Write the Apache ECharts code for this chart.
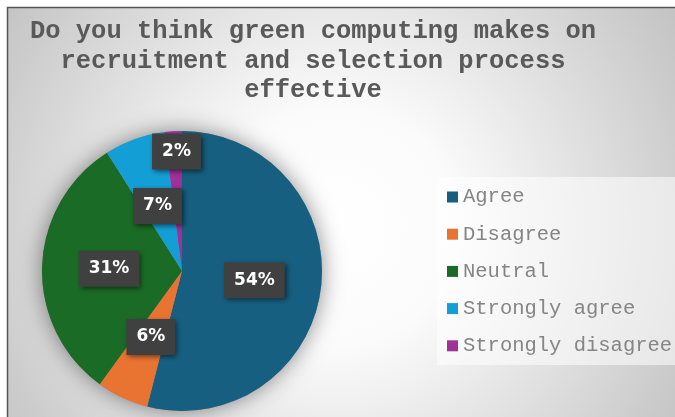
<!DOCTYPE html>
<html>
<head>
<meta charset="utf-8">
<script src="https://cdn.jsdelivr.net/npm/echarts@6/dist/echarts.min.js"></script>
<style>html,body{margin:0;padding:0;background:#fff;}#c{width:675px;height:417px;}</style>
</head>
<body>
<div id="c"></div>
<script>
const titleText = 'Do you think green computing makes on\nrecruitment and selection process\neffective';
const categories = ['Agree', 'Disagree', 'Neutral', 'Strongly agree', 'Strongly disagree'];
const values = [54, 6, 31, 7, 2];
const colors = ['#165F80', '#E97331', '#1A6B25', '#139FD6', '#A0309A'];
const labelPlace = { 3: [157.5, 206], 4: [176.5, 151.5] };

const chart = echarts.init(document.getElementById('c'), null, { renderer: 'canvas' });
const pieData = categories.map((name, i) => ({ name, value: values[i], itemStyle: { color: colors[i] } }));

chart.setOption({
  animation: false,
  backgroundColor: '#ffffff',
  graphic: [
    {
      type: 'rect', z: -10,
      shape: { x: 7.5, y: 7.5, width: 700, height: 440 },
      style: {
        fill: new echarts.graphic.RadialGradient(0.47, 0.5, 0.9, [
          { offset: 0, color: '#ffffff' },
          { offset: 0.3, color: '#fbfbfb' },
          { offset: 1, color: '#c4c4c4' }
        ]),
        stroke: '#555555', lineWidth: 1.5
      }
    },
    {
      type: 'rect', z: -9,
      shape: { x: 437, y: 177, width: 250, height: 188 },
      style: { fill: 'rgba(255,255,255,0.55)' }
    }
  ],
  title: {
    text: titleText,
    left: 313, top: 17, textAlign: 'center', padding: 0,
    textStyle: {
      fontFamily: 'Liberation Mono', fontWeight: 'bold', fontSize: 25.5,
      lineHeight: 29.5, color: '#595959'
    }
  },
  legend: {
    orient: 'vertical', left: 447, top: 186.5, padding: 0,
    data: categories,
    icon: 'rect', itemWidth: 11, itemHeight: 11, itemGap: 16.2,
    textStyle: { fontFamily: 'Liberation Mono', fontSize: 20.5, lineHeight: 21, color: '#858585' },
    selectedMode: false
  },
  series: [
    {
      type: 'pie', silent: true, z: 1,
      center: [182, 271], radius: 140,
      data: [{ value: 1, itemStyle: { color: '#888', shadowBlur: 22, shadowColor: 'rgba(0,0,0,0.45)' } }],
      label: { show: false }, labelLine: { show: false }
    },
    {
      type: 'pie', z: 2,
      center: [182, 271], radius: 140,
      startAngle: 90, clockwise: true,
      data: pieData,
      label: {
        show: true, position: 'inside',
        formatter: p => p.value + '%',
        color: '#ffffff', fontFamily: 'DejaVu Sans', fontWeight: 'bold', fontSize: 17,
        backgroundColor: '#404040', padding: [10, 10, 9, 10],
        shadowColor: 'rgba(0,0,0,0.55)', shadowBlur: 5, shadowOffsetX: 2, shadowOffsetY: 2
      },
      labelLayout: p => {
        const s = labelPlace[p.dataIndex];
        return s ? { x: s[0], y: s[1], align: 'center', verticalAlign: 'middle' } : {};
      },
      labelLine: { show: false }
    }
  ]
});
</script>
</body>
</html>
